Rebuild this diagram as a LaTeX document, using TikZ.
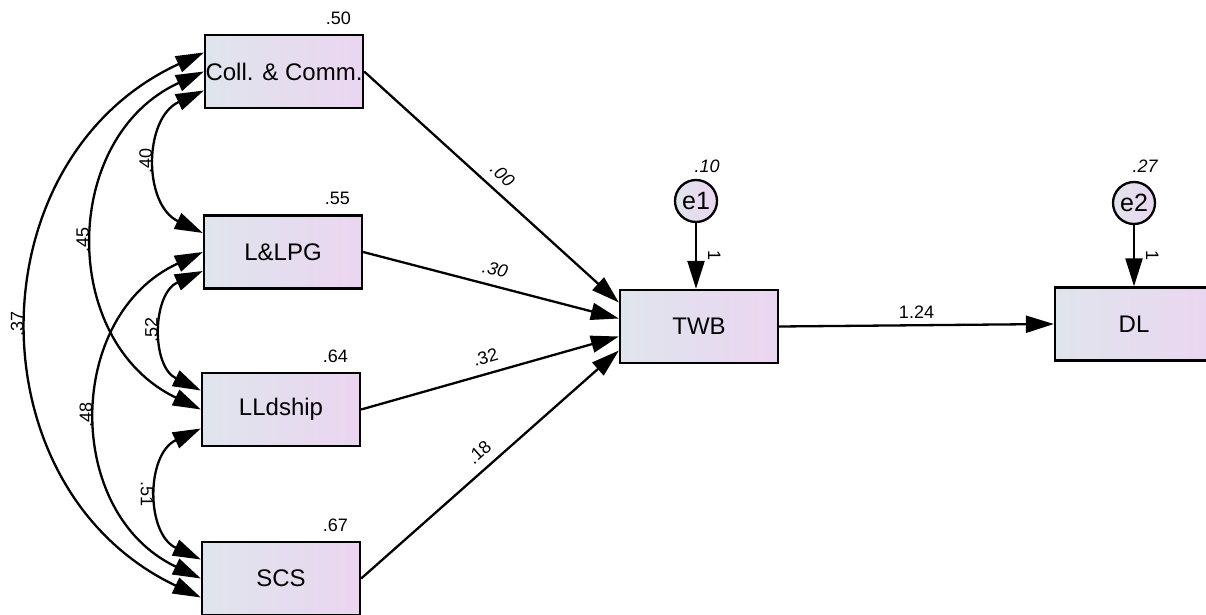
\documentclass[tikz,border=0pt]{standalone}
\usepackage{fontspec}
\setmainfont{Liberation Sans}
\usetikzlibrary{arrows.meta,positioning}
\definecolor{boxleft}{RGB}{223,229,236}
\definecolor{boxright}{RGB}{235,213,241}
\tikzstyle{observed} = [rectangle, minimum width=158pt, minimum height=73pt, inner sep=0pt, text centered, draw=black, line width=2.3pt, left color=boxleft, right color=boxright, font=\fontsize{24}{28}\selectfont]
\tikzstyle{unique} = [circle, minimum size=42pt, inner sep=0pt, draw=black, line width=2.3pt, left color=boxleft, right color=boxright, font=\fontsize{25}{29}\selectfont]
\tikzstyle{est} = [inner sep=2pt, font=\fontsize{18}{21}\selectfont]
\tikzstyle{arrow} = [line width=2.3pt, -{Triangle[length=28pt,width=17pt]}]
\tikzstyle{covar} = [line width=2.3pt, {Triangle[length=28pt,width=17pt]}-{Triangle[length=28pt,width=17pt]}, bend right=65, looseness=1.19]

\begin{document}
\begin{tikzpicture}[x=1pt, y=-1pt]
	\useasboundingbox (0,0) rectangle (1206,615);

	\node (cc) [observed] at (284,71.5) {Coll. \& Comm.};
	\node (llpg) [observed] at (283,252) {L\&LPG};
	\node (lld) [observed] at (281,409.5) {LLdship};
	\node (scs) [observed] at (281,578.5) {SCS};
	\node (twb) [observed] at (699,326.5) {TWB};
	\node (dl) [observed] at (1134,324) {DL};
	\node (e1) [unique] at (696,201) {e1};
	\node (e2) [unique] at (1134,203) {e2};

	% squared multiple correlations
	\node (r50) [est, anchor=south east] at ([xshift=-11pt,yshift=7pt]cc.north east) {.50};
	\node (r55) [est, anchor=south east] at ([xshift=-11pt,yshift=7pt]llpg.north east) {.55};
	\node (r64) [est, anchor=south east] at ([xshift=-11pt,yshift=7pt]lld.north east) {.64};
	\node (r67) [est, anchor=south east] at ([xshift=-11pt,yshift=7pt]scs.north east) {.67};
	\node (v10) [est] at ([xshift=11pt,yshift=35pt]e1) {\itshape .10};
	\node (v27) [est] at ([xshift=11pt,yshift=37pt]e2) {\itshape .27};

	% correlations
	\draw [covar] ([yshift=19pt]cc.west) to node (c37) [est, midway, anchor=south, rotate=90, inner sep=5pt] {.37} ([yshift=-19pt]scs.west);
	\draw [covar] (cc.west) to node (c45) [est, midway, anchor=south, rotate=90, inner sep=5pt] {.45} (lld.west);
	\draw [covar] ([yshift=-19pt]cc.west) to node (c40) [est, midway, anchor=south, rotate=90, inner sep=5pt] {.40} ([yshift=19pt]llpg.west);
	\draw [covar] (llpg.west) to node (c48) [est, midway, anchor=south, rotate=90, inner sep=5pt] {.48} (scs.west);
	\draw [covar] ([yshift=-19pt]llpg.west) to node (c52) [est, midway, anchor=south, rotate=90, inner sep=5pt] {.52} ([yshift=19pt]lld.west);
	\draw [covar] ([yshift=-19pt]lld.west) to node (c51) [est, midway, anchor=north, rotate=-90, inner sep=5pt] {.51} ([yshift=19pt]scs.west);

	% regression weights
	\draw [arrow] (cc.east) -- node (p00) [est, sloped, above=7pt] {\itshape .00} ([yshift=24pt]twb.west);
	\draw [arrow] (llpg.east) -- node (p30) [est, sloped, above=7pt] {\itshape .30} ([yshift=8pt]twb.west);
	\draw [arrow] (lld.east) -- node (p32) [est, sloped, above=7pt] {.32} ([yshift=-10pt]twb.west);
	\draw [arrow] (scs.east) -- node (p18) [est, sloped, above=7pt] {.18} ([yshift=-24pt]twb.west);
	\draw [arrow] (twb.east) -- node (p124) [est, above=4pt] {1.24} (dl.west);
	\draw [arrow] (e1) -- node (w1) [est, midway, anchor=south, rotate=-90, inner sep=11pt] {1} (e1 |- twb.north);
	\draw [arrow] (e2) -- node (w2) [est, midway, anchor=south, rotate=-90, inner sep=11pt] {1} (e2 |- dl.north);
\end{tikzpicture}
\end{document}
